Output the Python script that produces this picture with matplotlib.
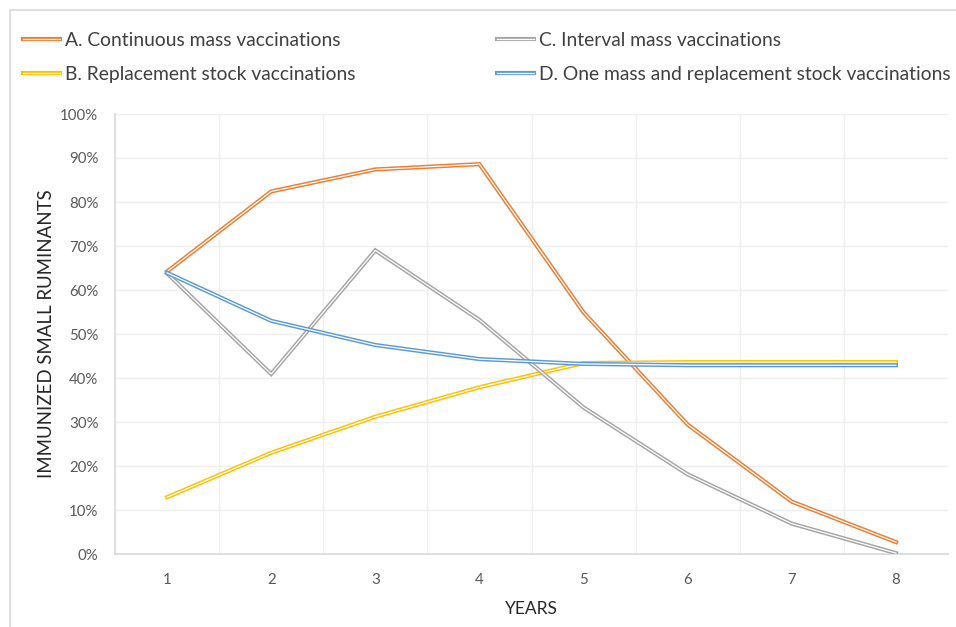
import numpy as np
import matplotlib.pyplot as plt
from matplotlib.lines import Line2D
from matplotlib.patches import Rectangle
from matplotlib.ticker import FixedLocator, PercentFormatter
from matplotlib.legend_handler import HandlerTuple

plt.rcParams['font.family'] = ['Lato', 'DejaVu Sans']

years = [1, 2, 3, 4, 5, 6, 7, 8]
labels = ['A. Continuous mass vaccinations',
          'B. Replacement stock vaccinations',
          'C. Interval mass vaccinations',
          'D. One mass and replacement stock vaccinations']
# percent immunized
contMass = [64.2, 82.4, 87.4, 88.6, 54.9, 29.4, 11.9, 2.7]
replStock = [12.9, 23.0, 31.2, 37.9, 43.4, 43.6, 43.6, 43.6]
intervalMass = [63.8, 40.9, 69.0, 53.2, 33.3, 18.1, 6.9, 0.2]
oneMassRepl = [63.9, 53.0, 47.5, 44.3, 43.2, 42.9, 42.9, 42.9]
series = [contMass, replStock, intervalMass, oneMassRepl]
colors = ['#ED7D31', '#FFC000', '#A5A5A5', '#5B9BD5']

fig = plt.figure(figsize=(9.56, 6.27), dpi=100)
# outer chart border (clipped by the picture on the right and bottom)
fig.patches.append(Rectangle((10/956, -0.1), 1.2, (627-10)/627 + 0.1, transform=fig.transFigure,
                             fill=False, edgecolor='#d9d9d9', linewidth=1.2))
ax = fig.add_axes([115/956, (627-554)/627, (948-115)/956, 440/627])

outerW = 3.0
innerW = 0.9
handles = []
for vals, col, lab in zip(series, colors, labels):
    ax.plot(years, vals, color=col, lw=outerW, solid_joinstyle='miter', zorder=3)
    ax.plot(years, vals, color='white', lw=innerW, solid_joinstyle='miter', zorder=3)
    handles.append((Line2D([], [], color=col, lw=outerW), Line2D([], [], color='white', lw=innerW)))

ax.set_xlim(0.5, 8.5)
ax.set_ylim(0, 100)
ax.set_xticks(years)
ax.set_yticks(np.arange(0, 101, 10))
ax.yaxis.set_major_formatter(PercentFormatter(decimals=0))
ax.xaxis.set_minor_locator(FixedLocator(np.arange(1.5, 8.5, 1)))
ax.grid(axis='y', which='major', color='#efefef', lw=1)
ax.grid(axis='x', which='minor', color='#efefef', lw=1)
ax.set_axisbelow(True)
ax.tick_params(which='both', length=0, labelsize=10.8, labelcolor='#595959')
ax.tick_params(axis='x', pad=14)
ax.tick_params(axis='y', pad=12)
for s in ['top', 'right']:
    ax.spines[s].set_visible(False)
for s in ['left', 'bottom']:
    ax.spines[s].set_color('#d9d9d9')
    ax.spines[s].set_linewidth(1.2)

ax.set_xlabel('YEARS', fontsize=12.5, color='#262626', labelpad=10)
ax.set_ylabel('IMMUNIZED SMALL RUMINANTS', fontsize=13.4, color='#262626', labelpad=4)

legKw = dict(loc='upper left', frameon=False, fontsize=13.9, handlelength=1.9,
             handletextpad=0.25, labelspacing=0.86, labelcolor='#404040',
             borderpad=0, borderaxespad=0,
             handler_map={tuple: HandlerTuple(ndivide=1)})
leg1 = fig.legend(handles[:2], labels[:2], bbox_to_anchor=(23/956, 1 - 32/627), **legKw)
leg2 = fig.legend(handles[2:], labels[2:], bbox_to_anchor=(497/956, 1 - 32/627), **legKw)

fig.savefig('out.png', dpi=100)
